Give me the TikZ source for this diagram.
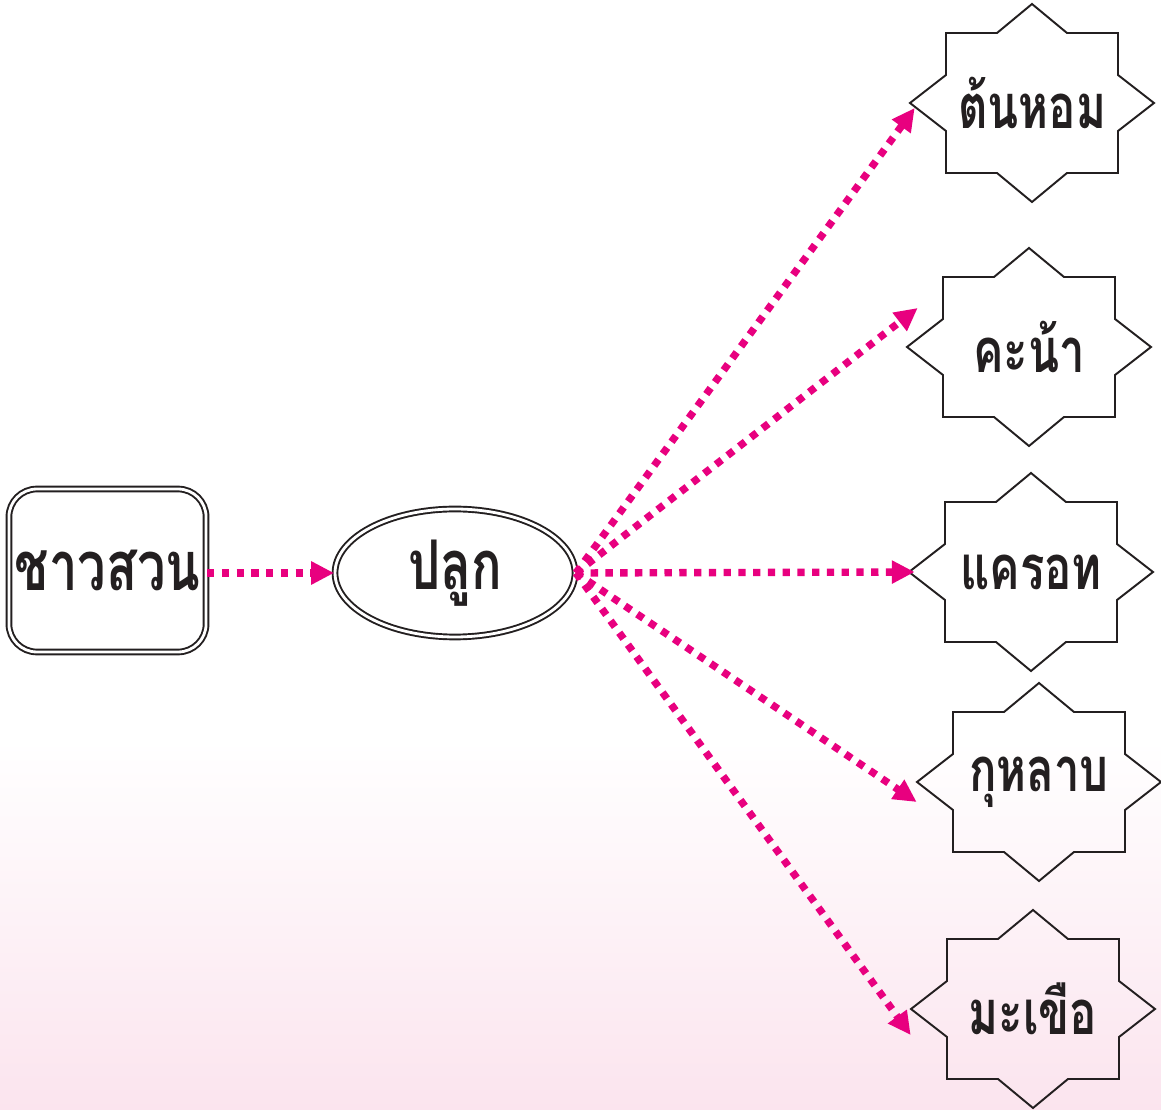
\documentclass[tikz,border=0pt]{standalone}
\usepackage{fontspec}
\newfontfamily\thaifont[Script=Thai, FakeStretch=0.74]{Loma}
\usepackage{tikz}
\usetikzlibrary{arrows.meta, shapes.geometric, calc}
\definecolor{plantpink}{HTML}{E8007F}
\definecolor{bgpink}{HTML}{FBE4EE}
\definecolor{inkblack}{HTML}{231F20}
\tikzset{
    base/.style={align=center, text=inkblack,
        font=\thaifont\bfseries\fontsize{39}{42}\selectfont},
    farmer/.style={base, rectangle, rounded corners=0.56cm,
        minimum width=3.82cm, minimum height=3.26cm,
        draw=inkblack, line width=1.1pt, double=white,
        double distance=1.6pt},
    action/.style={base, ellipse, inner sep=0pt,
        minimum width=4.8cm, minimum height=2.56cm,
        draw=inkblack, line width=1.1pt, double=white,
        double distance=1.6pt},
    crop/.style={base, font=\thaifont\bfseries\fontsize{35}{38}\selectfont,
        minimum width=4.88cm, minimum height=3.96cm, inner sep=0pt},
    starline/.style={draw=inkblack, line width=1.1pt, line join=miter},
    arr/.style={-{Triangle[length=13pt, width=12.5pt]},
        line width=4.2pt, color=plantpink,
        dash pattern=on 4.2pt off 4.2pt},
}

\begin{document}
\begin{tikzpicture}[x=0.02cm, y=0.02cm]

% ================================================================
%  BACKGROUND
% ================================================================

\useasboundingbox (0,0) rectangle (1161,1110);
\fill[white] (0,0) rectangle (1161,1110);
\shade[top color=white, bottom color=bgpink] (0,0) rectangle (1161,370);

% ================================================================
%  FARMER  ->  PLANT
% ================================================================

\node[farmer] (farmer) at (107.5,539.5) {ชาวสวน};
\node[action] (plant)  at (455,537) {ปลูก};

\draw[arr] (farmer.east |- plant) -- (plant.west);

% ================================================================
%  CROPS (eight-point stars)
% ================================================================

\foreach \nm/\xx/\yy/\txt in {tonhom/1032/1007/ต้นหอม,
        khana/1029/763/คะน้า,
        kharot/1031/538/แครอท,
        kulab/1039/328/กุหลาบ,
        makhuea/1033/101/มะเขือ}{
    \node[crop] (\nm) at (\xx,\yy) {\txt};
    \draw[starline, shift={(\nm.center)}]
        (-86,70) -- (-35,70) -- (0,99) -- (35,70) -- (86,70)
        -- (86,28) -- (122,0) -- (86,-28) -- (86,-70)
        -- (35,-70) -- (0,-99) -- (-35,-70) -- (-86,-70)
        -- (-86,-28) -- (-122,0) -- (-86,28) -- cycle;
}

% ================================================================
%  PLANT  ->  CROPS
% ================================================================

\coordinate (fan) at (plant.east);

\draw[arr] (fan) -- ($(tonhom.west)+(5,-5)$);
\draw[arr] (fan) -- ($(khana.west)+(11,39)$);
\draw[arr] (fan) -- ($(kharot.west)+(6,0)$);
\draw[arr] (fan) -- ($(kulab.west)+(0,-20)$);
\draw[arr] (fan) -- ($(makhuea.west)+(0,-26)$);

\end{tikzpicture}
\end{document}
